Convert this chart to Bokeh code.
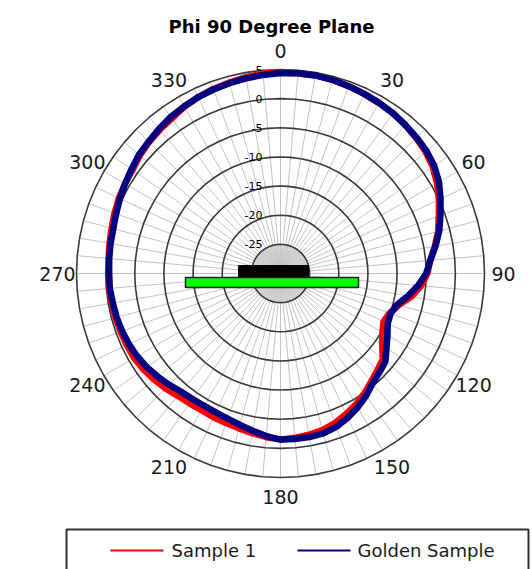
import numpy as np
from bokeh.plotting import figure
from bokeh.models import Range1d
from bokeh.embed import file_html
from bokeh.resources import INLINE
from bokeh.core.properties import value

# ---------------- data ----------------
title = "Phi 90 Degree Plane"
angles = list(range(0, 360, 5))
golden = [4.4, 4.5, 4.5, 4.4, 4.2, 4.0, 3.8, 3.6, 3.3, 3.0, 2.7, 2.2,
          1.4, 0.3, -0.8, -1.8, -3.0, -4.2, -5.0, -6.3, -7.8, -9.3, -9.9, -9.7,
          -8.8, -7.8, -6.5, -6.0, -5.4, -4.4, -3.5, -2.7, -2.0, -1.6, -1.5, -1.5,
          -1.5, -2.0, -2.6, -3.1, -3.5, -3.7, -3.8, -3.7, -3.5, -3.0, -2.5, -2.0,
          -1.6, -1.3, -1.1, -0.9, -0.8, -0.6, -0.6, -0.5, -0.4, -0.3, 0.0, 0.4,
          0.8, 1.2, 1.7, 2.0, 2.4, 2.8, 3.1, 3.4, 3.6, 3.8, 4.0, 4.2]
sample1 = [4.5, 4.5, 4.5, 4.4, 4.2, 4.0, 3.8, 3.6, 3.3, 2.9, 2.5, 1.9,
           1.0, 0.0, -1.1, -2.0, -3.1, -4.2, -4.8, -5.8, -7.2, -9.0, -10.1, -10.5,
           -9.8, -8.7, -7.1, -6.5, -5.8, -4.9, -4.1, -3.4, -2.7, -2.2, -1.9, -1.7,
           -1.5, -1.8, -2.2, -2.5, -2.7, -2.8, -2.9, -2.8, -2.6, -2.1, -1.7, -1.3,
           -1.0, -0.9, -0.8, -0.7, -0.6, -0.5, -0.5, -0.4, -0.2, 0.0, 0.3, 0.6,
           0.8, 1.0, 1.5, 1.9, 2.2, 2.5, 3.0, 3.4, 3.7, 3.9, 4.2, 4.4]
ring_levels = [5, 0, -5, -10, -15, -20, -25]
ring_labels = ["5", "0", "-5", "-10", "-15", "-20", "-25"]
r_min, r_max = -30, 5
angle_ticks = list(range(0, 360, 30))
angle_tick_labels = [str(a) for a in angle_ticks]
spoke_angles = list(range(0, 360, 5))
series_names = ["Sample 1", "Golden Sample"]
series_colors = ["#ff0000", "#000080"]

# ---------------- layout ----------------
W, H = 532, 569
CX, CY = 280, 273
R = 204.0
FONT = "DejaVu Sans"


def rad(db):
    return (np.asarray(db, dtype=float) - r_min) / (r_max - r_min) * R


def polar(deg, r):
    t = np.radians(np.asarray(deg, dtype=float))
    r = np.asarray(r, dtype=float)
    return r * np.sin(t), r * np.cos(t)


p = figure(width=W, height=H, output_backend="svg", toolbar_location=None,
           x_range=Range1d(-CX, W - CX), y_range=Range1d(CY - H, CY),
           x_axis_type=None, y_axis_type=None, min_border=0,
           background_fill_color="white", border_fill_color="white")
p.outline_line_color = None
p.grid.visible = False

# centre fill
circ = np.arange(0, 361, 5)
cx_, cy_ = polar(circ, np.full(len(circ), rad(-25)))
p.patch(list(cx_), list(cy_), fill_color="#d8d8d8", line_color=None)

# spokes
sx, sy = polar(spoke_angles, np.full(len(spoke_angles), R))
p.segment(x0=[0] * len(spoke_angles), y0=[0] * len(spoke_angles), x1=list(sx), y1=list(sy),
          line_color="#c4c4c4", line_width=1)

# rings
xs, ys = [], []
for lv in ring_levels:
    rx, ry = polar(circ, np.full(len(circ), rad(lv)))
    xs.append(list(rx))
    ys.append(list(ry))
p.multi_line(xs, ys, line_color="#3a3a3a", line_width=1.6)

# ring labels
p.text(x=[-18] * len(ring_levels), y=list(rad(ring_levels)), text=ring_labels,
       text_font=value(FONT), text_font_size="11px", text_align="right",
       text_baseline="middle", text_color="#000000")

# antenna sketch
p.quad(left=[-42], right=[28], top=[8], bottom=[-4], fill_color="black", line_color="black")
p.quad(left=[-95], right=[78], top=[-4], bottom=[-14], fill_color="#00ff00",
       line_color="#202020", line_width=1.5)

# curves
for vals, col in [(sample1, series_colors[0]), (golden, series_colors[1])]:
    a = angles + [angles[0]]
    v = vals + [vals[0]]
    x, y = polar(a, rad(v))
    p.line(list(x), list(y), line_color=col, line_width=6.5, line_join="round")

# angle labels
lx, ly = polar(angle_ticks, np.full(len(angle_ticks), 223.0))
p.text(x=list(lx), y=list(ly), text=angle_tick_labels, text_font=value(FONT),
       text_font_size="19px", text_align="center", text_baseline="middle",
       text_color="#1a1a1a")

# title
p.text(x=[-9], y=[247], text=[title], text_font=value(FONT), text_font_size="18px",
       text_font_style="bold", text_align="center", text_baseline="alphabetic",
       text_color="black")

# legend
p.quad(left=[-214], right=[248], top=[-256], bottom=[-320], fill_color=None,
       line_color="#303030", line_width=2)
p.segment(x0=[-170, 17], y0=[-277, -277], x1=[-117, 70], y1=[-277, -277],
          line_color=series_colors, line_width=2)
p.text(x=[-109, 77], y=[-277, -277], text=series_names, text_font=value(FONT),
       text_font_size="18px", text_align="left", text_baseline="middle",
       text_color="#1a1a1a")

open("out.html", "w").write(file_html(p, INLINE))
